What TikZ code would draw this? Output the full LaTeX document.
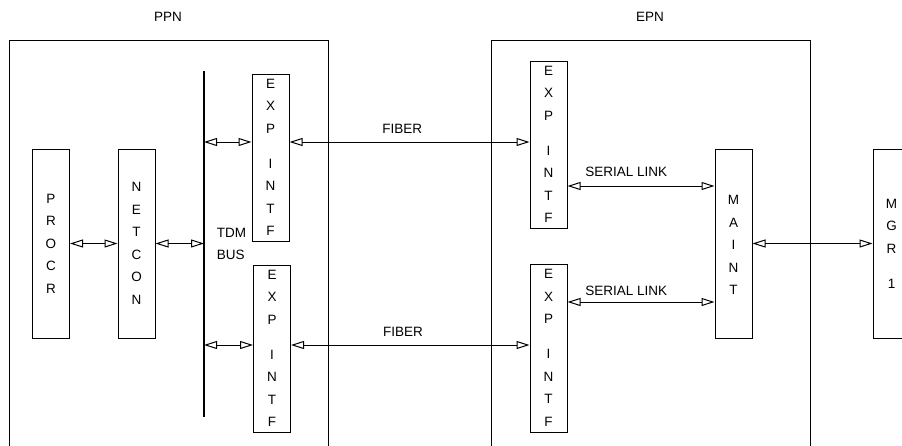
\documentclass[tikz,border=0pt]{standalone}
\usepackage{fontspec}
\setmainfont{Liberation Sans}
\usetikzlibrary{arrows.meta,positioning}

\begin{document}
\begin{tikzpicture}[x=1pt,y=-1pt, line width=1pt,
  blk/.style={draw, minimum width=37pt, inner sep=0pt, align=center, font=\fontsize{13.5}{22.5}\selectfont},
  tip/.tip={Triangle[open,length=13pt,width=8pt]},
  link/.style={tip-tip},
  lbl/.style={font=\fontsize{13.5}{22.5}\selectfont}]
\path[use as bounding box, clip] (0,0) rectangle (902,445);
% PPN
\node[lbl] (ppn) at (168,17) {PPN};
\draw (9.5,450) -- (9.5,40.5) -- (328,40.5) -- (328,450);
\node[blk, minimum height=189pt] (procr) at (51,243.5) {P\\R\\O\\C\\R};
\node[blk, minimum height=189pt] (netcon) at (136.5,243.5) {N\\E\\T\\C\\O\\N};
\node[blk, minimum height=167pt] (ppnexpa) at (270.5,157.5) {E\\X\\P\\[12.5pt]I\\N\\T\\F};
\node[blk, minimum height=167pt] (ppnexpb) at (272,348.5) {E\\X\\P\\[12.5pt]I\\N\\T\\F};
\coordinate (busT) at (204,71);
\coordinate (busB) at (204,417);
\draw[line width=2pt] (busT) -- (busB);
\node[lbl, anchor=west, align=left] (tdmbus) at (213,244) {TDM\\BUS};
% EPN
\node[lbl] (epn) at (650,17) {EPN};
\draw (491,450) -- (491,40.5) -- (810,40.5) -- (810,450);
\node[blk, minimum height=167pt] (epnexpa) at (548.5,144.5) {E\\X\\P\\[12.5pt]I\\N\\T\\F};
\node[blk, minimum height=168pt] (epnexpb) at (548.5,348) {E\\X\\P\\[12.5pt]I\\N\\T\\F};
\node[blk, minimum height=189pt] (maint) at (733.5,243.5) {\\[-10.5pt]M\\A\\I\\N\\T};
\node[blk, minimum height=189pt] (mgr) at (891.5,243.5) {M\\G\\R\\[12.5pt]1};
% rows of the links
\coordinate (fibA) at (0,142);
\coordinate (fibB) at (0,345);
\coordinate (serA) at (0,186);
\coordinate (serB) at (0,302);
% links
\draw[link] (procr) -- (netcon);
\draw[link] (netcon.east) -- (netcon.east -| busT);
\draw[link] (busT |- fibA) -- (ppnexpa.west |- fibA);
\draw[link] (busT |- fibB) -- (ppnexpb.west |- fibB);
\draw[link] (ppnexpa.east |- fibA) -- (epnexpa.west |- fibA) node[lbl, pos=0.47, above=5pt] {FIBER};
\draw[link] (ppnexpb.east |- fibB) -- (epnexpb.west |- fibB) node[lbl, pos=0.47, above=5pt] {FIBER};
\draw[link] (epnexpa.east |- serA) -- (maint.west |- serA) node[lbl, pos=0.4, above=6pt] {SERIAL LINK};
\draw[link] (epnexpb.east |- serB) -- (maint.west |- serB) node[lbl, pos=0.4, above=3pt] {SERIAL LINK};
\draw[link] (maint) -- (mgr);
\end{tikzpicture}
\end{document}
